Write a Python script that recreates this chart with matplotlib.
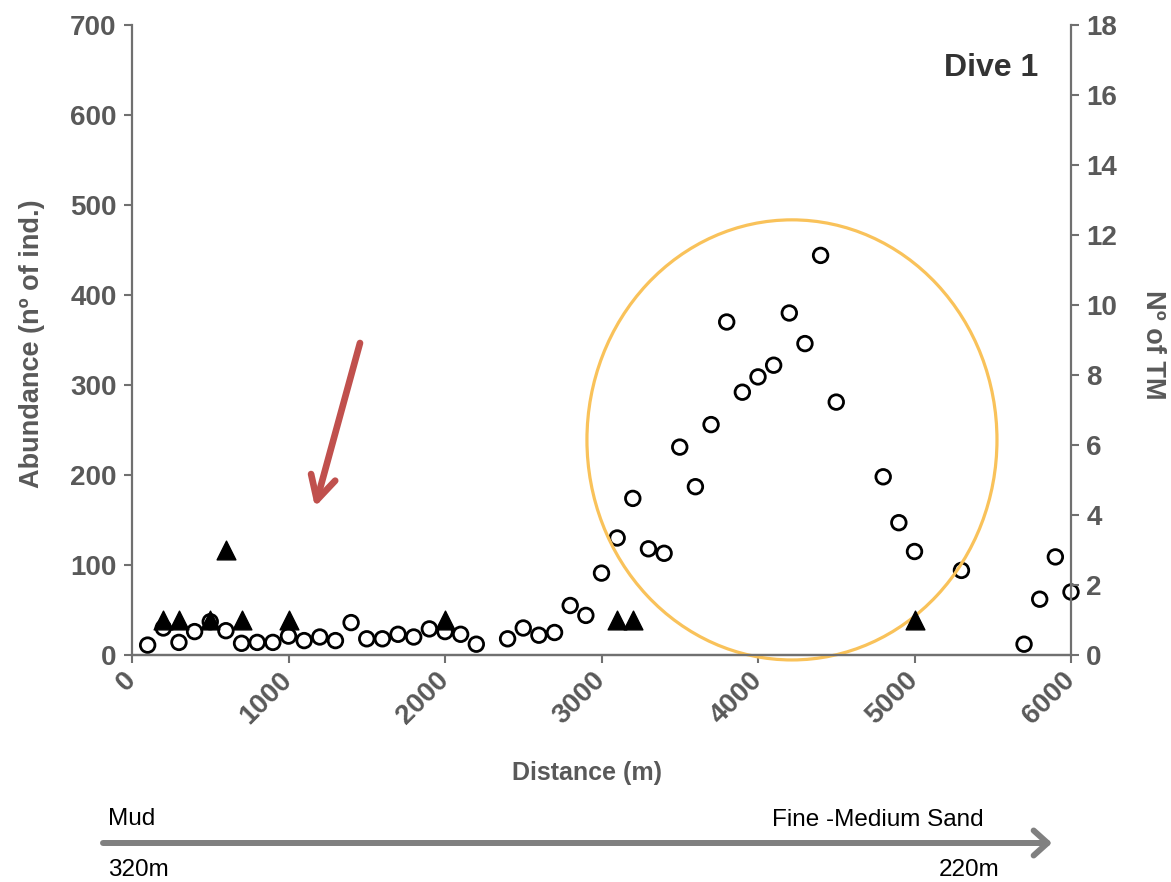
import matplotlib
matplotlib.use("Agg")
import matplotlib.pyplot as plt
from matplotlib.patches import Ellipse, FancyArrowPatch

plt.rcParams['font.family'] = ['Liberation Sans', 'DejaVu Sans']

# ---- data ----
dist_abund = [100, 200, 300, 400, 500, 600, 700, 800, 900, 1000, 1100, 1200, 1300, 1400,
              1500, 1600, 1700, 1800, 1900, 2000, 2100, 2200, 2400, 2500, 2600, 2700,
              2800, 2900, 3000, 3100, 3200, 3300, 3400, 3500, 3600, 3700, 3800, 3900,
              4000, 4100, 4200, 4300, 4400, 4500, 4800, 4900, 5000, 5300, 5700, 5800,
              5900, 6000]
abundance = [11, 30, 14, 26, 37, 27, 13, 14, 14, 21, 16, 20, 16, 36,
             18, 18, 23, 20, 29, 26, 23, 12, 18, 30, 22, 25,
             55, 44, 91, 130, 174, 118, 113, 231, 187, 256, 370, 292,
             309, 322, 380, 346, 444, 281, 198, 147, 115, 94, 12, 62,
             109, 70]
dist_tm = [200, 300, 500, 600, 700, 1000, 2000, 3100, 3200, 5000]
n_tm = [1, 1, 1, 3, 1, 1, 1, 1, 1, 1]

x_ticks = [0, 1000, 2000, 3000, 4000, 5000, 6000]
y_left_ticks = [0, 100, 200, 300, 400, 500, 600, 700]
y_right_ticks = [0, 2, 4, 6, 8, 10, 12, 14, 16, 18]

W, H = 1171, 882
fig = plt.figure(figsize=(W / 100, H / 100), dpi=100)
ax = fig.add_axes([132 / W, 1 - 655 / H, (1071 - 132) / W, (655 - 25) / H])
ax2 = ax.twinx()

grey = '#595959'
spine_c = '#707070'

ax.scatter(dist_abund, abundance, s=10.5**2, facecolors='none', edgecolors='black',
           linewidths=2.0, zorder=3, clip_on=False)
ax2.scatter(dist_tm, n_tm, s=13.5**2, marker='^', color='black', zorder=4, clip_on=False)

ax.set_xlim(0, 6000)
ax.set_ylim(0, 700)
ax2.set_ylim(0, 18)
ax.set_xticks(x_ticks)
ax.set_yticks(y_left_ticks)
ax2.set_yticks(y_right_ticks)

for a in (ax, ax2):
    a.spines['top'].set_visible(False)
    for s in ('left', 'right', 'bottom'):
        a.spines[s].set_color(spine_c)
        a.spines[s].set_linewidth(1.6)
    a.tick_params(direction='out', length=6, width=1.5, color=spine_c,
                  labelcolor=grey, labelsize=20, pad=5)
    a.patch.set_visible(False)
ax2.spines['left'].set_visible(False)
ax.spines['right'].set_visible(False)

for lab in ax.get_xticklabels() + ax.get_yticklabels() + ax2.get_yticklabels():
    lab.set_fontweight('bold')
for lab in ax.get_xticklabels():
    lab.set_rotation(45)
    lab.set_ha('right')
    lab.set_va('center')
    lab.set_rotation_mode('anchor')
ax.tick_params(axis='x', pad=9)

# highlight ellipse
ell = Ellipse((4217, 239), width=2620, height=489, fill=False, edgecolor='#F9C25A',
              linewidth=2.3, clip_on=False, zorder=5)
ax.add_patch(ell)

# labels
fig.text(32 / W, 1 - 344 / H, 'Abundance (nº of ind.)', rotation=90, ha='center', va='center',
         fontsize=19.5, fontweight='bold', color=grey)
fig.text(1153 / W, 1 - 345 / H, 'Nº of TM', rotation=270, ha='center', va='center',
         fontsize=19.5, fontweight='bold', color=grey)
fig.text(587 / W, 1 - 773 / H, 'Distance (m)', ha='center', va='center',
         fontsize=18, fontweight='bold', color=grey)
fig.text(1038 / W, 1 - 76 / H, 'Dive 1', ha='right', va='baseline',
         fontsize=23, fontweight='bold', color='#333333')

# red arrow
fig.add_artist(FancyArrowPatch(
    (360, H - 343), (315, H - 507), transform=None,
    arrowstyle='->,head_length=0.85,head_width=0.45', mutation_scale=20,
    color='#C0504D', linewidth=4.8, shrinkA=0, shrinkB=0, capstyle='round'))

# grey arrow at bottom
fig.add_artist(FancyArrowPatch(
    (103, H - 843), (1052, H - 843), transform=None,
    arrowstyle='->,head_length=0.5,head_width=0.45', mutation_scale=20,
    color='#808080', linewidth=4.3, shrinkA=0, shrinkB=0))

fig.text(108 / W, 1 - 825 / H, 'Mud', ha='left', va='baseline', fontsize=17.5, color='black')
fig.text(772 / W, 1 - 826 / H, 'Fine -Medium Sand', ha='left', va='baseline', fontsize=17.5, color='black')
fig.text(108 / W, 1 / H, '320m', ha='left', va='bottom', fontsize=17.5, color='black')
fig.text(939 / W, 1 / H, '220m', ha='left', va='bottom', fontsize=17.5, color='black')

fig.savefig('out.png', dpi=100)
